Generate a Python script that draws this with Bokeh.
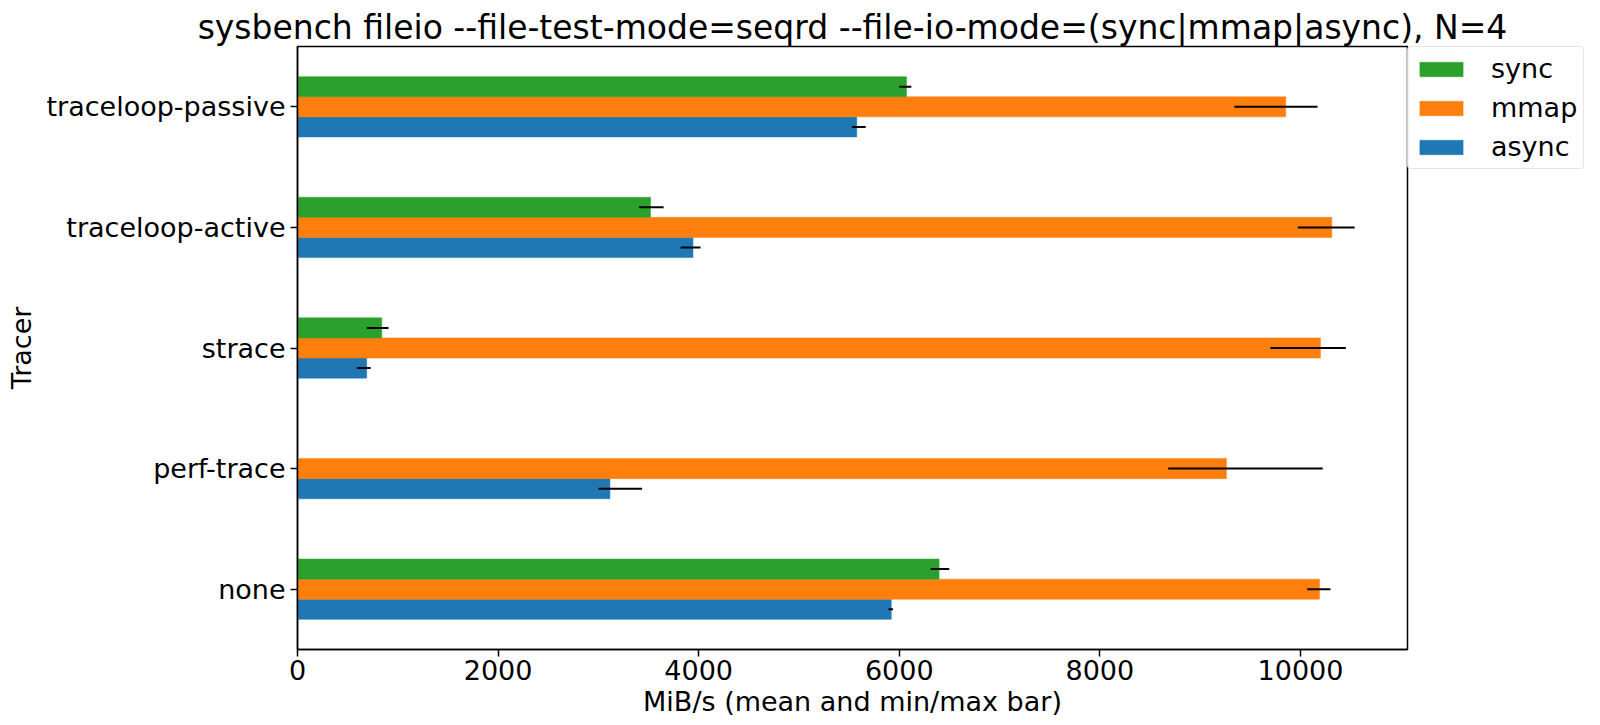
import math
from bokeh.plotting import figure
from bokeh.models import (ColumnDataSource, FixedTicker, Legend, LegendItem, Range1d)
from bokeh.embed import file_html
from bokeh.resources import INLINE

NaN = float("nan")

# ---- data ----
categories = ["none", "perf-trace", "strace", "traceloop-active", "traceloop-passive"]

async_mean = [5920, 3115, 690, 3943, 5576]
async_min = [5892, 3000, 591, 3820, 5530]
async_max = [5937, 3436, 730, 4018, 5665]

mmap_mean = [10189, 9262, 10199, 10312, 9853]
mmap_min = [10067, 8681, 9701, 9973, 9341]
mmap_max = [10299, 10222, 10452, 10540, 10170]

sync_mean = [6397, NaN, 840, 3520, 6072]
sync_min = [6313, NaN, 690, 3405, 6000]
sync_max = [6498, NaN, 907, 3650, 6120]

x_ticks = [0, 2000, 4000, 6000, 8000, 10000]

title_text = "sysbench fileio --file-test-mode=seqrd --file-io-mode=(sync|mmap|async), N=4"
x_label = "MiB/s (mean and min/max bar)"
y_label = "Tracer"

series = [
    ("async", async_mean, async_min, async_max, "#1f77b4"),
    ("mmap", mmap_mean, mmap_min, mmap_max, "#ff7f0e"),
    ("sync", sync_mean, sync_min, sync_max, "#2ca02c"),
]

FONT = "DejaVu Sans"
FS = "27px"
BAR_H = 0.5 / 3

p = figure(
    frame_width=1110, frame_height=603,
    output_backend="svg", toolbar_location=None,
    x_range=Range1d(0, 11067), y_range=Range1d(-0.5, 4.5),
    min_border_left=297, min_border_right=180, min_border_top=46, min_border_bottom=0,
)

renderers = {}
n = len(series)
for i, (name, mean, lo, hi, color) in enumerate(series):
    off = (i - (n - 1) / 2) * BAR_H
    ys = [k + off for k in range(len(categories))]
    src = ColumnDataSource(dict(y=ys, mean=mean, lo=lo, hi=hi))
    r = p.hbar(y="y", left=0, right="mean", height=BAR_H, source=src,
               fill_color=color, line_color=color, line_width=0.5)
    p.segment(x0="lo", y0="y", x1="hi", y1="y", source=src,
              line_color="black", line_width=2)
    renderers[name] = r

legend = Legend(
    items=[LegendItem(label="sync", renderers=[renderers["sync"]]),
           LegendItem(label="mmap", renderers=[renderers["mmap"]]),
           LegendItem(label="async", renderers=[renderers["async"]])],
    location="top_left",
    orientation="vertical",
    label_text_font=FONT, label_text_font_size=FS, label_text_color="black",
    label_height=27, glyph_width=54, glyph_height=18,
    label_standoff=23, spacing=8, padding=6, margin=0,
    border_line_color="#cccccc", border_line_width=1.5,
    background_fill_alpha=0.8,
)
if "border_radius" in Legend.properties():
    legend.border_radius = 4
p.add_layout(legend, "right")

# title
p.title.text = title_text
p.title.align = "center"
p.title.text_font = FONT
p.title.text_font_size = "33px"
p.title.text_font_style = "normal"
p.title.text_color = "black"
p.title.standoff = 0

# axes
p.xaxis.ticker = FixedTicker(ticks=x_ticks)
p.yaxis.ticker = FixedTicker(ticks=list(range(len(categories))))
p.yaxis.major_label_overrides = {k: c for k, c in enumerate(categories)}
p.xaxis.axis_label = x_label
p.yaxis.axis_label = y_label

for ax in (p.xaxis[0], p.yaxis[0]):
    ax.axis_label_text_font = FONT
    ax.axis_label_text_font_size = FS
    ax.axis_label_text_font_style = "normal"
    ax.axis_label_text_color = "black"
    ax.major_label_text_font = FONT
    ax.major_label_text_font_size = FS
    ax.major_label_text_color = "black"
    ax.axis_line_color = "black"
    ax.axis_line_width = 1.5
    ax.major_tick_line_color = "black"
    ax.major_tick_line_width = 1.5
    ax.major_tick_in = 0
    ax.major_tick_out = 7
    ax.minor_tick_line_color = None

p.xaxis.major_label_standoff = 3
p.xaxis.axis_label_standoff = 3
p.yaxis.major_label_standoff = 5
p.yaxis.axis_label_standoff = 6

p.xgrid.grid_line_color = None
p.ygrid.grid_line_color = None
p.outline_line_color = "black"
p.outline_line_width = 1.5
p.background_fill_color = "white"
p.border_fill_color = "white"

open("out.html", "w").write(file_html(p, INLINE))
